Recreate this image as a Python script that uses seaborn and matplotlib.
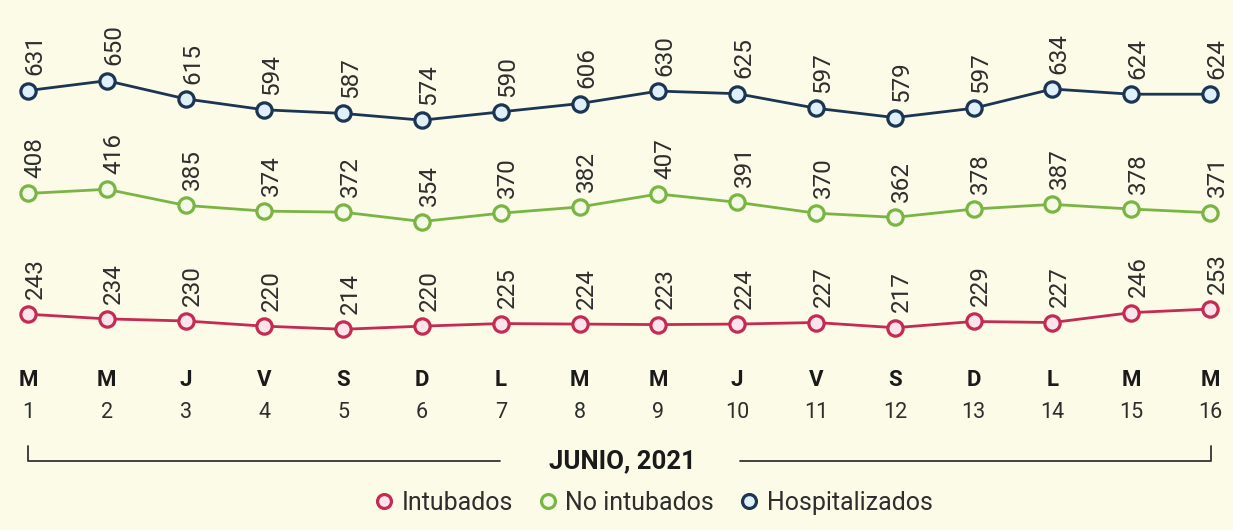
import numpy as np
import pandas as pd
import seaborn as sns
import matplotlib.pyplot as plt
from matplotlib.lines import Line2D
from matplotlib import transforms

# data
dias = list(range(1, 17))
letras = ["M", "M", "J", "V", "S", "D", "L", "M", "M", "J", "V", "S", "D", "L", "M", "M"]
hospitalizados = [631, 650, 615, 594, 587, 574, 590, 606, 630, 625, 597, 579, 597, 634, 624, 624]
no_intubados = [408, 416, 385, 374, 372, 354, 370, 382, 407, 391, 370, 362, 378, 387, 378, 371]
intubados = [243, 234, 230, 220, 214, 220, 225, 224, 223, 224, 227, 217, 229, 227, 246, 253]
mes = "JUNIO, 2021"

bg = "#fbfbe8"
txt = "#2e2e2e"

sns.set_style("white")
plt.rcParams["font.family"] = ["Roboto", "DejaVu Sans"]

W, H = 1233, 530
fig = plt.figure(figsize=(W / 100, H / 100), dpi=100)
fig.patch.set_facecolor(bg)


def px_axes(top, bottom):
    return fig.add_axes([28 / W, (H - bottom) / H, 1182 / W, (bottom - top) / H])


# (name, values, line color, fill color, pixel rows, ylim)
series = [
    ("Hospitalizados", hospitalizados, "#1c3553", "#dff0fa", (62, 142), (532, 686)),
    ("No intubados", no_intubados, "#7ab543", "#f4fae6", (168, 248), (303, 457)),
    ("Intubados", intubados, "#c42a52", "#fbe4ea", (282, 362), (151, 305)),
]

axes = []
for name, vals, col, fill, rows, ylim in series:
    ax = px_axes(*rows)
    df = pd.DataFrame({"dia": dias, "valor": vals})
    sns.lineplot(data=df, x="dia", y="valor", ax=ax, color=col, lw=2.0,
                 marker="o", markersize=11, markeredgewidth=2.3,
                 markeredgecolor=col, markerfacecolor=fill, clip_on=False)
    for d, v in zip(dias, vals):
        ax.annotate(str(v), (d, v), xytext=(5, 11), textcoords="offset points",
                    rotation=90, ha="center", va="bottom", fontsize=17.5,
                    color=txt, annotation_clip=False)
    ax.set_xlim(1, 16)
    ax.set_ylim(*ylim)
    ax.axis("off")
    axes.append(ax)

# day labels under the chart
ax = axes[-1]
tr = transforms.blended_transform_factory(ax.transData, fig.transFigure)
for d, l in zip(dias, letras):
    ax.text(d, 1 - 380 / H, l, transform=tr, ha="center", va="center",
            fontsize=16, fontweight="bold", color="#1a1a1a")
    ax.text(d, 1 - 412 / H, str(d), transform=tr, ha="center", va="center",
            fontsize=15.5, color=txt)

# bracket with month
yb = 1 - 461 / H
yt = 1 - 446 / H
fig.add_artist(Line2D([28 / W, 28 / W, 500 / W], [yt, yb, yb], color="#333333", lw=1.3))
fig.add_artist(Line2D([740 / W, 1211 / W, 1211 / W], [yb, yb, yt], color="#333333", lw=1.3))
fig.text(622 / W, yb, mes, ha="center", va="center", fontsize=18.5,
         fontweight="bold", color="#1a1a1a")

# legend
handles = [
    Line2D([], [], ls="none", marker="o", markersize=10, markeredgewidth=2.3,
           markeredgecolor=col, markerfacecolor=fill, label=name)
    for name, vals, col, fill, rows, ylim in series[::-1]
]
leg = fig.legend(handles=handles, loc="center", bbox_to_anchor=(652 / W, 1 - 503 / H),
                 ncol=3, frameon=False, fontsize=18, handletextpad=0.2,
                 columnspacing=0.9, handlelength=1.0)
for t in leg.get_texts():
    t.set_color(txt)

fig.savefig("out.png", dpi=100, facecolor=bg)
